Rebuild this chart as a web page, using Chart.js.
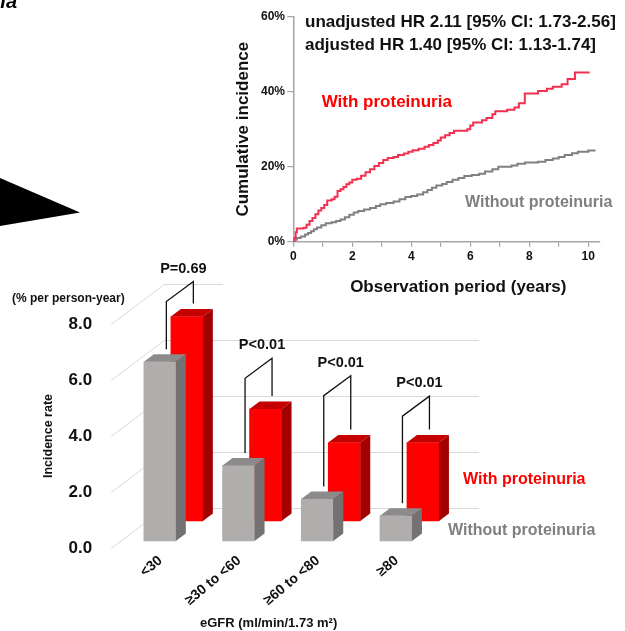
<!DOCTYPE html>
<html>
<head>
<meta charset="utf-8">
<script src="https://cdn.jsdelivr.net/npm/chart.js@4.4.1/dist/chart.umd.min.js"></script>
<style>
  html, body { margin: 0; padding: 0; background: #fff; }
  #wrap { position: relative; width: 625px; height: 631px; overflow: hidden; background: #fff; }
  #bars { position: absolute; left: 0; top: 0; }
  #km { position: absolute; left: 223px; top: 0; background: #fff; }
</style>
</head>
<body>
<div id="wrap">
  <canvas id="bars" width="625" height="631"></canvas>
  <canvas id="km" width="402" height="300"></canvas>
</div>
<script>
// ---------- data: cumulative incidence (top panel) ----------
const withYears = [0, 0.03, 0.08, 0.12, 0.35, 0.45, 0.55, 0.65, 0.75, 0.85, 0.95, 1.05, 1.15, 1.3, 1.4, 1.5, 1.6, 1.7, 1.8, 1.9, 2.0, 2.15, 2.3, 2.45, 2.6, 2.75, 2.9, 3.05, 3.2, 3.4, 3.55, 3.75, 3.9, 4.05, 4.25, 4.45, 4.6, 4.75, 4.9, 5.0, 5.15, 5.3, 5.45, 5.9, 6.0, 6.1, 6.4, 6.55, 6.75, 6.85, 7.25, 7.5, 7.65, 7.85, 8.3, 8.6, 8.8, 9.1, 9.3, 9.55, 10.05];
const withIncidence = [0, 1.0, 2.5, 3.5, 3.7, 4.5, 5.5, 6.3, 7.3, 8.3, 9.0, 9.8, 11.0, 11.3, 12.0, 13.5, 14.0, 14.6, 15.3, 15.8, 16.5, 16.8, 17.6, 18.5, 19.3, 20.2, 21.0, 21.8, 22.3, 22.6, 23.1, 23.5, 24.0, 24.4, 24.8, 25.3, 25.8, 26.3, 27.0, 27.8, 28.4, 29.0, 29.6, 30.0, 31.0, 31.8, 32.4, 33.0, 34.0, 34.8, 35.2, 35.8, 36.9, 39.5, 40.2, 40.8, 41.3, 42.0, 43.4, 45.1, 45.1];
const withoutYears = [0, 0.05, 0.12, 0.25, 0.4, 0.5, 0.6, 0.7, 0.8, 0.95, 1.1, 1.3, 1.45, 1.6, 1.75, 1.9, 2.05, 2.2, 2.4, 2.6, 2.8, 2.95, 3.15, 3.4, 3.6, 3.8, 4.0, 4.2, 4.4, 4.55, 4.7, 4.85, 5.05, 5.2, 5.4, 5.6, 5.8, 6.05, 6.3, 6.5, 6.75, 6.95, 7.4, 7.6, 7.86, 8.3, 8.55, 8.8, 9.0, 9.2, 9.45, 9.65, 10.0, 10.25];
const withoutIncidence = [0, 0.5, 1.0, 1.4, 1.9, 2.3, 2.8, 3.3, 3.8, 4.4, 4.9, 5.2, 5.5, 5.9, 6.5, 7.2, 7.8, 8.2, 8.6, 9.0, 9.5, 10.0, 10.3, 10.7, 11.3, 11.9, 12.2, 12.6, 13.2, 13.8, 14.4, 15.0, 15.4, 15.9, 16.5, 17.0, 17.5, 17.8, 18.1, 18.7, 19.3, 20.0, 20.3, 20.8, 21.1, 21.3, 21.8, 22.2, 22.6, 23.1, 23.6, 24.0, 24.3, 24.3];
const kmXTicks = [0, 1, 2, 3, 4, 5, 6, 7, 8, 9, 10];
const kmYTicks = [0, 20, 40, 60];

// ---------- data: incidence rate by eGFR (bottom panel) ----------
const egfrCategories = ['<30', '\u226530 to <60', '\u226560 to <80', '\u226580'];
const rateWithout = [6.4, 2.7, 1.5, 0.9];
const rateWith = [7.3, 4.0, 2.8, 2.8];
const pValueLabels = ['P=0.69', 'P<0.01', 'P<0.01', 'P<0.01'];
const bracketTops = [8.55, 5.81, 5.19, 4.46];
const rateTicks = [0, 2, 4, 6, 8];

Chart.defaults.font.family = '"Liberation Sans", Arial, Helvetica, sans-serif';
Chart.defaults.color = '#111';
Chart.defaults.animation = false;

// oblique 3D projection offsets (pixels)
const DEPTH = {
  series: [{ x: 9.3, y: -7 }, { x: 36.3, y: -27 }],
  bar: { x: 10, y: -7.5 },
  wall: { x: 53, y: -40 }
};

function poly(ctx, pts, fill) {
  ctx.beginPath();
  ctx.moveTo(pts[0][0], pts[0][1]);
  for (let i = 1; i < pts.length; i++) ctx.lineTo(pts[i][0], pts[i][1]);
  ctx.closePath();
  ctx.fillStyle = fill;
  ctx.fill();
}

const bar3d = {
  id: 'bar3d',
  beforeDraw(chart) {
    const ctx = chart.ctx;
    ctx.save();
    poly(ctx, [[0, 178], [80, 212.5], [0, 226]], '#000');
    ctx.fillStyle = '#000';
    ctx.font = 'italic bold 20px "Liberation Sans", Arial, sans-serif';
    ctx.textAlign = 'right';
    ctx.textBaseline = 'alphabetic';
    ctx.fillText('ria', 17, 8);
    ctx.restore();
  },
  beforeDatasetsDraw(chart) {
    const ctx = chart.ctx, ys = chart.scales.y, a = chart.chartArea;
    ctx.save();
    ctx.strokeStyle = '#d9d9d9';
    ctx.lineWidth = 1;
    rateTicks.forEach(v => {
      const y0 = Math.round(ys.getPixelForValue(v)) + 0.5;
      ctx.beginPath();
      ctx.moveTo(a.left, y0);
      ctx.lineTo(a.left + DEPTH.wall.x, y0 + DEPTH.wall.y);
      ctx.lineTo(a.right + DEPTH.wall.x, y0 + DEPTH.wall.y);
      ctx.stroke();
    });
    ctx.restore();
  },
  beforeDatasetDraw(chart, args) {
    const off = DEPTH.series[args.index];
    chart.ctx.save();
    chart.ctx.translate(off.x, off.y);
  },
  afterDatasetDraw(chart, args) {
    const ctx = chart.ctx;
    const ds = chart.data.datasets[args.index];
    const d = DEPTH.bar;
    args.meta.data.forEach(el => {
      const p = el.getProps(['x', 'y', 'base', 'width'], true);
      const l = p.x - p.width / 2, r = p.x + p.width / 2;
      poly(ctx, [[r, p.y], [r + d.x, p.y + d.y], [r + d.x, p.base + d.y], [r, p.base]], ds.sideColor);
      poly(ctx, [[l, p.y], [l + d.x, p.y + d.y], [r + d.x, p.y + d.y], [r, p.y]], ds.topColor);
    });
    ctx.restore();
  },
  afterDatasetsDraw(chart) {
    const ctx = chart.ctx, ys = chart.scales.y;
    const g = chart.getDatasetMeta(0).data, rd = chart.getDatasetMeta(1).data;
    const og = DEPTH.series[0], orr = DEPTH.series[1];
    const legDx = DEPTH.bar.x * 0.65;
    ctx.save();
    ctx.strokeStyle = '#111';
    ctx.lineWidth = 1.3;
    ctx.fillStyle = '#111';
    ctx.font = 'bold 14.5px "Liberation Sans", Arial, sans-serif';
    ctx.textAlign = 'center';
    ctx.textBaseline = 'middle';
    for (let i = 0; i < egfrCategories.length; i++) {
      const gp = g[i].getProps(['x', 'y'], true);
      const rp = rd[i].getProps(['x', 'y'], true);
      const xL = gp.x + og.x + legDx, xR = rp.x + orr.x + legDx;
      const yLb = gp.y + og.y - 12.5, yRb = rp.y + orr.y - 13;
      const yRt = ys.getPixelForValue(bracketTops[i]) + orr.y;
      const yLt = yRt + (og.y - orr.y);
      ctx.beginPath();
      ctx.moveTo(xL, yLb);
      ctx.lineTo(xL, yLt);
      ctx.lineTo(xR, yRt);
      ctx.lineTo(xR, yRb);
      ctx.stroke();
      ctx.fillText(pValueLabels[i], xR - 10, yRt - 13);
    }
    ctx.textAlign = 'left';
    ctx.font = 'bold 12px "Liberation Sans", Arial, sans-serif';
    ctx.fillText('(% per person-year)', 12, 299);
    ctx.font = 'bold 16px "Liberation Sans", Arial, sans-serif';
    ctx.fillStyle = '#ff0000';
    ctx.fillText('With proteinuria', 463, 480);
    ctx.fillStyle = '#7f7f7f';
    ctx.fillText('Without proteinuria', 448, 531);
    ctx.restore();
  }
};

new Chart(document.getElementById('bars'), {
  type: 'bar',
  data: {
    labels: egfrCategories,
    datasets: [
      { label: 'Without proteinuria', data: rateWithout, backgroundColor: '#b0adad', sideColor: '#737171', topColor: '#8c8a8a', borderWidth: 0, barThickness: 32, grouped: false, clip: false },
      { label: 'With proteinuria', data: rateWith, backgroundColor: '#ff0000', sideColor: '#a30000', topColor: '#c40000', borderWidth: 0, barThickness: 32, grouped: false, clip: false }
    ]
  },
  options: {
    responsive: false,
    events: [],
    layout: { padding: { left: 0, right: 199, top: 324, bottom: 0 } },
    plugins: { legend: { display: false }, tooltip: { enabled: false } },
    scales: {
      x: {
        offset: true,
        grid: { display: false, drawTicks: false },
        border: { display: false },
        ticks: { autoSkip: false, minRotation: 40, maxRotation: 40, padding: 4.4, labelOffset: 10, color: '#111', font: { size: 14, weight: 'bold' } },
        title: { display: true, text: 'eGFR (ml/min/1.73 m\u00b2)', color: '#111', font: { size: 13, weight: 'bold' }, padding: { top: 0, bottom: 0 } },
        afterFit(s) { s.height = 83; }
      },
      y: {
        min: 0, max: 8,
        grid: { display: false, drawTicks: false },
        border: { display: false },
        afterBuildTicks(s) { s.ticks = rateTicks.map(v => ({ value: v })); },
        ticks: { padding: 19, color: '#111', font: { size: 17, weight: 'bold' }, callback: v => Number(v).toFixed(1) },
        title: { display: true, text: 'Incidence rate', color: '#111', font: { size: 12.5, weight: 'bold' }, padding: { top: 41, bottom: 0 } },
        afterFit(s) { s.width = 111.2; }
      }
    }
  },
  plugins: [bar3d]
});

// ---------- top panel ----------
const kmText = {
  id: 'kmText',
  afterDraw(chart) {
    const ctx = chart.ctx;
    ctx.save();
    ctx.textBaseline = 'middle';
    ctx.textAlign = 'left';
    ctx.fillStyle = '#111';
    ctx.font = 'bold 17px "Liberation Sans", Arial, sans-serif';
    ctx.fillText('unadjusted HR 2.11 [95% CI: 1.73-2.56]', 82, 22);
    ctx.fillText('adjusted HR 1.40 [95% CI: 1.13-1.74]', 82, 45);
    ctx.fillStyle = '#ff0000';
    ctx.fillText('With proteinuria', 98.7, 102.5);
    ctx.fillStyle = '#7f7f7f';
    ctx.font = 'bold 16px "Liberation Sans", Arial, sans-serif';
    ctx.fillText('Without proteinuria', 242, 203);
    ctx.fillStyle = '#111';
    ctx.font = 'bold 17px "Liberation Sans", Arial, sans-serif';
    ctx.textAlign = 'center';
    ctx.fillText('Observation period (years)', 235.3, 287);
    ctx.restore();
  }
};

const toPts = (xs, ys) => xs.map((x, i) => ({ x: x, y: ys[i] }));

new Chart(document.getElementById('km'), {
  type: 'line',
  data: {
    datasets: [
      { label: 'With proteinuria', data: toPts(withYears, withIncidence), borderColor: '#f2304f', borderWidth: 2, pointRadius: 0, stepped: true, fill: false },
      { label: 'Without proteinuria', data: toPts(withoutYears, withoutIncidence), borderColor: '#808080', borderWidth: 2, pointRadius: 0, stepped: true, fill: false }
    ]
  },
  options: {
    responsive: false,
    events: [],
    layout: { padding: { left: 0, right: 25, top: 16.7, bottom: 0 } },
    plugins: { legend: { display: false }, tooltip: { enabled: false } },
    scales: {
      x: {
        type: 'linear', min: 0, max: 10.4,
        grid: { drawOnChartArea: false, drawTicks: true, tickLength: 5, color: '#a6a6a6', lineWidth: 1.2 },
        border: { display: true, color: '#a6a6a6', width: 1.5 },
        afterBuildTicks(s) { s.ticks = kmXTicks.map(v => ({ value: v })); },
        ticks: { autoSkip: false, maxRotation: 0, padding: 3, color: '#111', font: { size: 12, weight: 'bold' }, callback: v => (v % 2 === 0 ? String(v) : '') },
        afterFit(s) { s.height = 58.3; }
      },
      y: {
        min: 0, max: 60,
        grid: { drawOnChartArea: false, drawTicks: true, tickLength: 6, color: '#a6a6a6', lineWidth: 1.2 },
        border: { display: true, color: '#a6a6a6', width: 1.5 },
        afterBuildTicks(s) { s.ticks = kmYTicks.map(v => ({ value: v })); },
        ticks: { padding: 2.3, color: '#111', font: { size: 12, weight: 'bold' }, callback: v => v + '%' },
        title: { display: true, text: 'Cumulative incidence', color: '#111', font: { size: 17, weight: 'bold' }, padding: { top: 9.8, bottom: 0 } },
        afterFit(s) { s.width = 70.3; }
      }
    }
  },
  plugins: [kmText]
});
</script>
</body>
</html>
